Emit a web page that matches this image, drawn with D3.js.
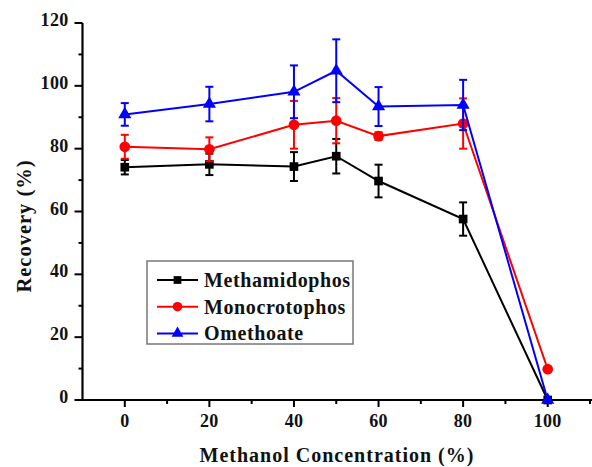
<!DOCTYPE html>
<html><head><meta charset="utf-8">
<script src="https://cdn.jsdelivr.net/npm/d3@7"></script>
<style>body{margin:0;background:#fff}svg{display:block}text{font-family:"Liberation Serif","Times New Roman",serif;font-weight:bold;fill:#111}</style>
</head><body><svg id="c" width="592" height="467"></svg>
<script>
const concentrations = [0, 20, 40, 50, 60, 80, 100];
const seriesNames = ["Methamidophos", "Monocrotophos", "Omethoate"];
const methamidophos = [74.1, 75.0, 74.3, 77.6, 69.7, 57.6, 0];
const methamidophosErr = [2.3, 3.4, 4.6, 5.5, 5.2, 5.3, 0];
const monocrotophos = [80.6, 79.8, 87.6, 88.9, 84.0, 88.0, 9.8];
const monocrotophosErr = [3.8, 3.8, 7.6, 7.2, 1.2, 8.0, 0];
const omethoate = [90.9, 94.2, 98.1, 104.8, 93.4, 93.9, 0];
const omethoateErr = [3.6, 5.5, 8.4, 10.0, 6.2, 8.0, 0];
const xTicks = [0, 20, 40, 60, 80, 100];
const yTicks = [0, 20, 40, 60, 80, 100, 120];

const series = [
  {name: seriesNames[0], y: methamidophos, e: methamidophosErr, color: "#000000", sym: d3.symbolSquare, size: 75},
  {name: seriesNames[1], y: monocrotophos, e: monocrotophosErr, color: "#ff0000", sym: d3.symbolCircle, size: 90},
  {name: seriesNames[2], y: omethoate, e: omethoateErr, color: "#0000ff", sym: d3.symbolTriangle, size: 75}
];

const svg = d3.select("#c");
const x = d3.scaleLinear().domain([-10, 110]).range([82.5, 590]);
const y = d3.scaleLinear().domain([0, 120]).range([400, 23]);

// axes
const xAxis = svg.append("g").attr("transform", "translate(0,400)");
xAxis.append("line").attr("x1", 82.5).attr("x2", 592).attr("stroke", "#000").attr("stroke-width", 2.2);
const xMinor = d3.range(-10, 111, 10).filter(v => !xTicks.includes(v) && v > -10);
xAxis.selectAll(".xm").data(xMinor).join("line").attr("x1", d => x(d)).attr("x2", d => x(d)).attr("y1", 0).attr("y2", 4).attr("stroke", "#000").attr("stroke-width", 2);
xAxis.selectAll(".xM").data(xTicks).join("line").attr("x1", d => x(d)).attr("x2", d => x(d)).attr("y1", 0).attr("y2", 7).attr("stroke", "#000").attr("stroke-width", 2);
xAxis.selectAll(".xl").data(xTicks).join("text").attr("x", d => x(d)).attr("y", 27).attr("text-anchor", "middle").attr("font-size", 18).attr("letter-spacing", 0.3).text(d => d);

const yAxis = svg.append("g").attr("transform", "translate(82.5,0)");
yAxis.append("line").attr("y1", 23).attr("y2", 401).attr("stroke", "#000").attr("stroke-width", 2.2);
const yMinor = d3.range(10, 120, 20);
yAxis.selectAll(".ym").data(yMinor).join("line").attr("y1", d => y(d)).attr("y2", d => y(d)).attr("x1", 0).attr("x2", -4).attr("stroke", "#000").attr("stroke-width", 2);
yAxis.selectAll(".yM").data(yTicks).join("line").attr("y1", d => y(d)).attr("y2", d => y(d)).attr("x1", 0).attr("x2", -8).attr("stroke", "#000").attr("stroke-width", 2);
yAxis.selectAll(".yl").data(yTicks).join("text").attr("x", -14).attr("y", d => y(d) + 3).attr("text-anchor", "end").attr("font-size", 18).attr("letter-spacing", 0.3).text(d => d);

svg.append("text").attr("transform", "translate(31,226) rotate(-90)").attr("text-anchor", "middle").attr("font-size", 20.5).attr("letter-spacing", 1).text("Recovery (%)");
svg.append("text").attr("x", 337).attr("y", 462).attr("text-anchor", "middle").attr("font-size", 20).attr("letter-spacing", 1).text("Methanol Concentration (%)");

// series
const line = d3.line().x(d => x(d[0])).y(d => y(d[1]));
series.forEach(s => {
  const g = svg.append("g");
  const pts = concentrations.map((c, i) => [c, s.y[i], s.e[i]]);
  g.append("path").datum(pts).attr("d", line).attr("fill", "none").attr("stroke", s.color).attr("stroke-width", 2);
  const eb = g.selectAll(".eb").data(pts.filter(p => p[2] > 0)).join("g");
  eb.append("line").attr("x1", d => x(d[0])).attr("x2", d => x(d[0])).attr("y1", d => y(d[1] - d[2])).attr("y2", d => y(d[1] + d[2])).attr("stroke", s.color).attr("stroke-width", 2);
  eb.append("line").attr("x1", d => x(d[0]) - 4).attr("x2", d => x(d[0]) + 4).attr("y1", d => y(d[1] - d[2])).attr("y2", d => y(d[1] - d[2])).attr("stroke", s.color).attr("stroke-width", 2);
  eb.append("line").attr("x1", d => x(d[0]) - 4).attr("x2", d => x(d[0]) + 4).attr("y1", d => y(d[1] + d[2])).attr("y2", d => y(d[1] + d[2])).attr("stroke", s.color).attr("stroke-width", 2);
  g.selectAll(".m").data(pts).join("path").attr("transform", d => `translate(${x(d[0])},${y(d[1])})`).attr("d", d3.symbol().type(s.sym).size(s.size)).attr("fill", s.color);
});

// legend
const lg = svg.append("g");
lg.append("rect").attr("x", 147).attr("y", 261).attr("width", 206).attr("height", 83).attr("fill", "#fff").attr("stroke", "#777").attr("stroke-width", 1.5);
series.forEach((s, i) => {
  const cy = 280 + i * 26.7;
  lg.append("line").attr("x1", 157).attr("x2", 198).attr("y1", cy).attr("y2", cy).attr("stroke", s.color).attr("stroke-width", 2);
  lg.append("path").attr("transform", `translate(177.5,${cy})`).attr("d", d3.symbol().type(s.sym).size(s.size * 0.8)).attr("fill", s.color);
  lg.append("text").attr("x", 204).attr("y", cy + 7).attr("font-size", 20).attr("letter-spacing", 0.6).text(s.name);
});
</script></body></html>
